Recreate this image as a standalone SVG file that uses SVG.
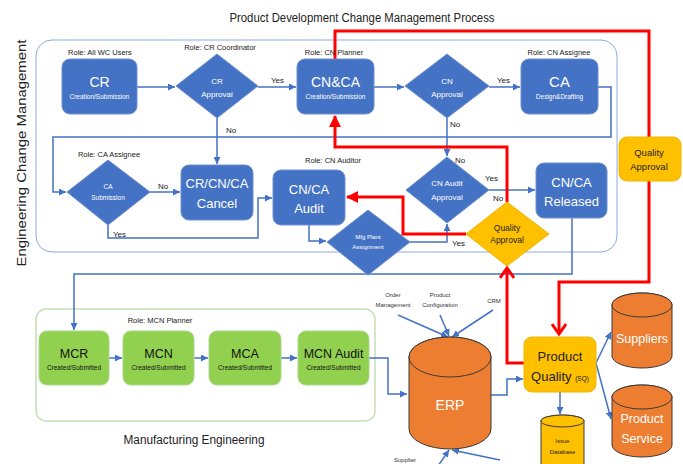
<svg xmlns="http://www.w3.org/2000/svg" width="683" height="464" viewBox="0 0 683 464">
<style>
text{font-family:"Liberation Sans",Arial,sans-serif;text-anchor:middle}
.t{font-size:12.5px;fill:#222}
.role{font-size:7.5px;fill:#222}
.lbl{font-size:8px;fill:#222;text-anchor:start}
.ext{font-size:6px;fill:#333}
.bb{fill:#4472c4;stroke:#6f8fd0;stroke-width:1}
.big{font-size:13px;fill:#fff}
.sm{font-size:6.5px;fill:#fff}
.dm{font-size:8px;fill:#fff}
.yb{fill:#ffc000;stroke:#f0b400;stroke-width:1}
.yt{fill:#222}
.gb{fill:#92d050;stroke:#a9d88a;stroke-width:1}
.gt{font-size:12.5px;fill:#111}
.gs{font-size:6.5px;fill:#111}
.cyl{fill:#ed7d31;stroke:#3a3a3a;stroke-width:1}
.cylt{font-size:13px;fill:#fff}
.c{fill:none;stroke:#4472c4;stroke-width:1.5}
.r{fill:none;stroke:#ff0000;stroke-width:3}
</style>
<defs>
<marker id="ab" markerUnits="userSpaceOnUse" markerWidth="7" markerHeight="7" refX="7" refY="3.5" orient="auto"><path d="M0,0 L7,3.5 L0,7 z" fill="#4472c4"/></marker>
<marker id="ar" markerUnits="userSpaceOnUse" markerWidth="12" markerHeight="12" refX="11" refY="6" orient="auto"><path d="M0,0 L12,6 L0,12 z" fill="#ff0000"/></marker>
<marker id="av" markerUnits="userSpaceOnUse" markerWidth="14" markerHeight="16" refX="11" refY="8" orient="auto"><path d="M1,1 L11,8 L1,15" fill="none" stroke="#ff0000" stroke-width="3"/></marker>
</defs>

<text class="t" x="362" y="22" textLength="265" lengthAdjust="spacingAndGlyphs">Product Development Change Management Process</text>

<g id="ecm-frame">
<rect x="36" y="40" width="581" height="212" rx="16" fill="none" stroke="#8faadc" stroke-width="1"/>
<text transform="translate(26,153) rotate(-90)" style="font-size:12px;fill:#222" textLength="227" lengthAdjust="spacingAndGlyphs">Engineering Change Management</text>
</g>
<g id="mfg-frame">
<rect x="36" y="309" width="339" height="112" rx="10" fill="none" stroke="#c5e0b4" stroke-width="1.5"/>
<text x="194" y="444" style="font-size:12.5px;fill:#222" textLength="141" lengthAdjust="spacingAndGlyphs">Manufacturing Engineering</text>
</g>

<g id="connectors">
<path class="c" d="M137,87 H175" marker-end="url(#ab)"/>
<path class="c" d="M258,87 H296" marker-end="url(#ab)"/>
<path class="c" d="M374,87 H404" marker-end="url(#ab)"/>
<path class="c" d="M489,87 H520" marker-end="url(#ab)"/>
<path class="c" d="M598,87 H611 V137 H53 V192 H66" marker-end="url(#ab)"/>
<path class="c" d="M217,118 V164" marker-end="url(#ab)"/>
<path class="c" d="M447,118 V156" marker-end="url(#ab)"/>
<path class="c" d="M150,192 H180" marker-end="url(#ab)"/>
<path class="c" d="M108,225 V238 H258 V198 H272" marker-end="url(#ab)"/>
<path class="c" d="M309,225 V241 H326" marker-end="url(#ab)"/>
<path class="c" d="M410,242 H447 V224" marker-end="url(#ab)"/>
<path class="c" d="M489,190 H535" marker-end="url(#ab)"/>
<path class="c" d="M572,218 V274 H74 V330" marker-end="url(#ab)"/>
<path class="c" d="M109,358 H122" marker-end="url(#ab)"/>
<path class="c" d="M194,358 H208" marker-end="url(#ab)"/>
<path class="c" d="M281,358 H297" marker-end="url(#ab)"/>
<path class="c" d="M369,358 H388 V394 H407" marker-end="url(#ab)"/>
<path class="c" d="M491,395 H507 V379 H523" marker-end="url(#ab)"/>
<path class="c" d="M560,392 V414" marker-end="url(#ab)"/>
<path class="c" d="M596,363 L611,332" marker-end="url(#ab)"/>
<path class="c" d="M596,363 L611,419" marker-end="url(#ab)"/>
<path class="c" d="M398,315 L448,337" marker-end="url(#ab)"/>
<path class="c" d="M440,315 L449,336" marker-end="url(#ab)"/>
<path class="c" d="M493,310 L452,337" marker-end="url(#ab)"/>
<path class="c" d="M438,466 L449,450" marker-end="url(#ab)"/>
<path class="c" d="M500,460 L452,450" marker-end="url(#ab)"/>
<path class="r" d="M335,59 V31 H649 V137"/>
<path class="r" d="M507,202 V147 H335 V116" marker-end="url(#ar)"/>
<path class="r" d="M466,234 H403 V197 H347" marker-end="url(#ar)"/>
<path class="r" d="M524,363 H507 V268" marker-end="url(#av)"/>
<path class="r" d="M649,181 V282 H559 V334" marker-end="url(#av)"/>
<text class="lbl" x="271" y="83">Yes</text>
<text class="lbl" x="497" y="83">Yes</text>
<text class="lbl" x="226" y="133">No</text>
<text class="lbl" x="450" y="127">No</text>
<text class="lbl" x="455" y="163">No</text>
<text class="lbl" x="158" y="189">No</text>
<text class="lbl" x="113" y="237">Yes</text>
<text class="lbl" x="452" y="246">Yes</text>
<text class="lbl" x="485" y="181">Yes</text>
<text class="lbl" x="493" y="201">No</text>
<text class="ext" x="393" y="297">Order</text>
<text class="ext" x="393" y="307">Management</text>
<text class="ext" x="440" y="297">Product</text>
<text class="ext" x="440" y="307">Configuration</text>
<text class="ext" x="494" y="303">CRM</text>
<text class="ext" x="405" y="462">Supplier</text>
</g>

<g id="cr">
<text class="role" x="100" y="54.5">Role: All WC Users</text>
<rect class="bb" x="62" y="59" width="75" height="55" rx="8"/>
<text class="big" x="99.5" y="87" style="font-size:14px">CR</text>
<text class="sm" x="99.5" y="98.5">Creation/Submission</text>
</g>
<g id="cr-approval">
<text class="role" x="220" y="50">Role: CR Coordinator</text>
<polygon class="bb" points="217,54 258,86 217,118 176,86"/>
<text class="dm" x="217" y="84">CR</text>
<text class="dm" x="217" y="97">Approval</text>
</g>
<g id="cnca">
<text class="role" x="334" y="54.5">Role: CN Planner</text>
<rect class="bb" x="297" y="59" width="77" height="55" rx="8"/>
<text class="big" x="335.5" y="87" style="font-size:14px">CN&amp;CA</text>
<text class="sm" x="335.5" y="99">Creation/Submission</text>
</g>
<g id="cn-approval">
<polygon class="bb" points="447,54 489,86 447,118 405,86"/>
<text class="dm" x="447" y="84">CN</text>
<text class="dm" x="447" y="97">Approval</text>
</g>
<g id="ca">
<text class="role" x="559" y="54.5">Role: CN Assignee</text>
<rect class="bb" x="521" y="59" width="77" height="55" rx="8"/>
<text class="big" x="559.5" y="87" style="font-size:15px">CA</text>
<text class="sm" x="559.5" y="99">Design&amp;Drafting</text>
</g>
<g id="ca-submission">
<text class="role" x="109" y="157">Role: CA Assignee</text>
<polygon class="bb" points="108,160 150,192 108,225 67,192"/>
<text class="sm" x="108" y="189">CA</text>
<text class="sm" x="108" y="200">Submission</text>
</g>
<g id="cancel">
<rect class="bb" x="181" y="165" width="72" height="55" rx="8"/>
<text class="big" x="217" y="188">CR/CN/CA</text>
<text class="big" x="217" y="208">Cancel</text>
</g>
<g id="audit">
<text class="role" x="333" y="162.5">Role: CN Auditor</text>
<rect class="bb" x="273" y="170" width="72" height="55" rx="8"/>
<text class="big" x="309" y="194">CN/CA</text>
<text class="big" x="309" y="213">Audit</text>
</g>
<g id="mfg-plant">
<polygon class="bb" points="368,210 410,242 368,275 327,242"/>
<text class="sm" x="368" y="239" style="font-size:6px">Mfg Plant</text>
<text class="sm" x="368" y="249" style="font-size:6px">Assignment</text>
</g>
<g id="cn-audit-approval">
<polygon class="bb" points="447,157 489,190 447,223 406,190"/>
<text class="dm" x="447" y="186">CN Audit</text>
<text class="dm" x="447" y="200">Approval</text>
</g>
<g id="released">
<rect class="bb" x="536" y="163" width="71" height="55" rx="8"/>
<text class="big" x="571.5" y="187">CN/CA</text>
<text class="big" x="571.5" y="206">Released</text>
</g>
<g id="quality-approval-diamond">
<polygon class="yb" points="507,202 549,234 507,266 466,234"/>
<text class="yt" x="507" y="231" style="font-size:8.5px">Quality</text>
<text class="yt" x="507" y="243" style="font-size:8.5px">Approval</text>
</g>
<g id="quality-approval-box">
<rect class="yb" x="619" y="137" width="62" height="44" rx="8"/>
<text class="yt" x="649" y="156" style="font-size:9.5px">Quality</text>
<text class="yt" x="649" y="170" style="font-size:9.5px">Approval</text>
</g>
<g id="product-quality">
<rect class="yb" x="524" y="337" width="72" height="55" rx="8"/>
<text class="yt" x="560" y="361" style="font-size:13px">Product</text>
<text class="yt" x="560" y="381" style="font-size:13px">Quality <tspan style="font-size:6.5px">(SQ)</tspan></text>
</g>
<g id="erp">
<path class="cyl" d="M409,357 V429 A41,20 0 0 0 491,429 V357 A41,20 0 0 0 409,357 Z"/>
<ellipse class="cyl" cx="450" cy="357" rx="41" ry="20"/>
<text class="cylt" x="450" y="410" style="font-size:14px">ERP</text>
</g>
<g id="suppliers">
<path class="cyl" d="M612,305 V356 A30,12 0 0 0 672,356 V305 A30,12 0 0 0 612,305 Z"/>
<ellipse class="cyl" cx="642" cy="305" rx="30" ry="12"/>
<text class="cylt" x="642" y="343" style="font-size:12.5px">Suppliers</text>
</g>
<g id="product-service">
<path class="cyl" d="M612,397 V445 A30,12 0 0 0 672,445 V397 A30,12 0 0 0 612,397 Z"/>
<ellipse class="cyl" cx="642" cy="397" rx="30" ry="12"/>
<text class="cylt" x="642" y="423" style="font-size:12.5px">Product</text>
<text class="cylt" x="642" y="443" style="font-size:12.5px">Service</text>
</g>
<g id="issue-db">
<path d="M541,421 V470 A21.5,6 0 0 0 584,470 V421 A21.5,6 0 0 0 541,421 Z" fill="#ffc000" stroke="#3a3a3a" stroke-width="1"/>
<ellipse cx="562.5" cy="421" rx="21.5" ry="6" fill="#ffc000" stroke="#3a3a3a" stroke-width="1"/>
<text class="yt" x="562.5" y="443" style="font-size:6px">Issue</text>
<text class="yt" x="562.5" y="454" style="font-size:6px">Database</text>
</g>
<g id="mcr">
<text class="role" x="160" y="323">Role: MCN Planner</text>
<rect class="gb" x="39" y="331" width="70" height="54" rx="8"/>
<text class="gt" x="74" y="358">MCR</text>
<text class="gs" x="74" y="370">Created/Submitted</text>
</g>
<g id="mcn">
<rect class="gb" x="123" y="331" width="71" height="54" rx="8"/>
<text class="gt" x="158.5" y="358">MCN</text>
<text class="gs" x="158.5" y="370">Created/Submitted</text>
</g>
<g id="mca">
<rect class="gb" x="209" y="331" width="72" height="54" rx="8"/>
<text class="gt" x="245" y="358">MCA</text>
<text class="gs" x="245" y="370">Created/Submitted</text>
</g>
<g id="mcn-audit">
<rect class="gb" x="298" y="331" width="71" height="54" rx="8"/>
<text class="gt" x="333.5" y="358">MCN Audit</text>
<text class="gs" x="333.5" y="370">Created/Submitted</text>
</g>
</svg>
